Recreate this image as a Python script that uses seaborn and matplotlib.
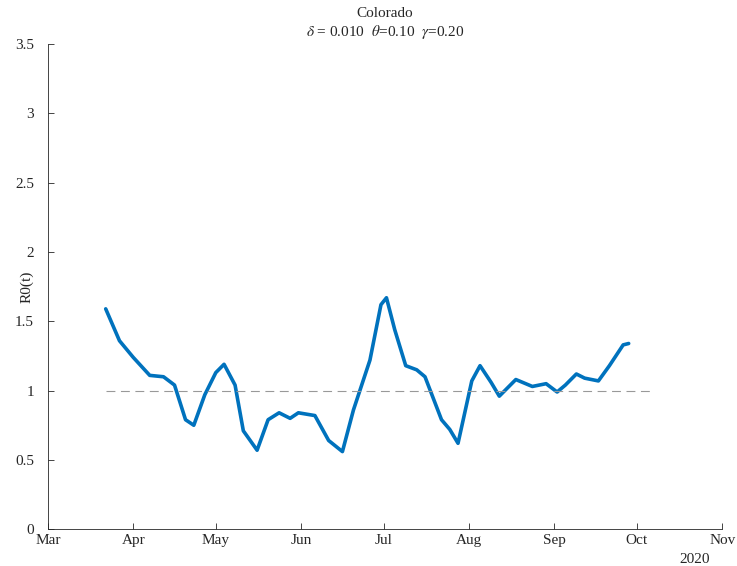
import numpy as np
import pandas as pd
import seaborn as sns
import matplotlib.pyplot as plt
import matplotlib.dates as mdates

sns.set_style("ticks")
plt.rcParams['font.family'] = ['Liberation Serif', 'DejaVu Serif']
plt.rcParams['mathtext.fontset'] = 'stix'

dates = ["2020-03-22", "2020-03-27", "2020-04-01", "2020-04-07", "2020-04-12", "2020-04-16",
         "2020-04-20", "2020-04-23", "2020-04-27", "2020-05-01", "2020-05-04", "2020-05-08",
         "2020-05-11", "2020-05-16", "2020-05-20", "2020-05-24", "2020-05-28", "2020-05-31",
         "2020-06-06", "2020-06-11", "2020-06-16", "2020-06-20", "2020-06-26", "2020-06-30",
         "2020-07-02", "2020-07-05", "2020-07-09", "2020-07-13", "2020-07-16", "2020-07-22",
         "2020-07-25", "2020-07-28", "2020-08-02", "2020-08-05", "2020-08-09", "2020-08-12",
         "2020-08-15", "2020-08-18", "2020-08-24", "2020-08-29", "2020-09-02", "2020-09-05",
         "2020-09-09", "2020-09-12", "2020-09-17", "2020-09-21", "2020-09-26", "2020-09-28"]
r0 = [1.59, 1.36, 1.24, 1.11, 1.10, 1.04,
      0.79, 0.75, 0.97, 1.13, 1.19, 1.04,
      0.71, 0.57, 0.79, 0.84, 0.80, 0.84,
      0.82, 0.64, 0.56, 0.86, 1.22, 1.62,
      1.67, 1.44, 1.18, 1.15, 1.10, 0.79,
      0.72, 0.62, 1.07, 1.18, 1.06, 0.96,
      1.02, 1.08, 1.03, 1.05, 0.99, 1.04,
      1.12, 1.09, 1.07, 1.18, 1.33, 1.34]

df = pd.DataFrame({"date": pd.to_datetime(dates), "R0": r0})

fig = plt.figure(figsize=(7.37, 5.66), dpi=100)
ax = fig.add_axes([0.065, 0.065, 0.915, 0.857])
sns.lineplot(data=df, x="date", y="R0", ax=ax, color="#0072BD", linewidth=2.6)
ax.plot(pd.to_datetime(["2020-03-22", "2020-10-06"]), [1, 1], ls=(0, (8, 5)),
        color="#999999", lw=0.8)

ax.set_xlim(pd.Timestamp("2020-03-01"), pd.Timestamp("2020-11-01"))
ax.set_ylim(0, 3.5)
ax.set_yticks(np.arange(0, 3.51, 0.5))
ax.set_yticklabels(["0", "0.5", "1", "1.5", "2", "2.5", "3", "3.5"])
ax.xaxis.set_major_locator(mdates.MonthLocator())
ax.xaxis.set_major_formatter(mdates.DateFormatter("%b"))
ax.tick_params(direction="in", length=4, labelsize=11, width=0.6)
ax.tick_params(axis="y", pad=10)
for s in ["top", "right"]:
    ax.spines[s].set_visible(False)
for s in ["left", "bottom"]:
    ax.spines[s].set_linewidth(0.6)
ax.set_xlabel("")
ax.set_ylabel("R0(t)", fontsize=11)
ax.yaxis.set_label_coords(-0.022, 0.5)
ax.text(0.982, -0.05, "2020", transform=ax.transAxes, ha="right", va="top", fontsize=11)
ax.set_title("Colorado\n$\\delta$ = 0.010  $\\theta$=0.10  $\\gamma$=0.20", fontsize=11)
fig.savefig("out.png", dpi=100)
